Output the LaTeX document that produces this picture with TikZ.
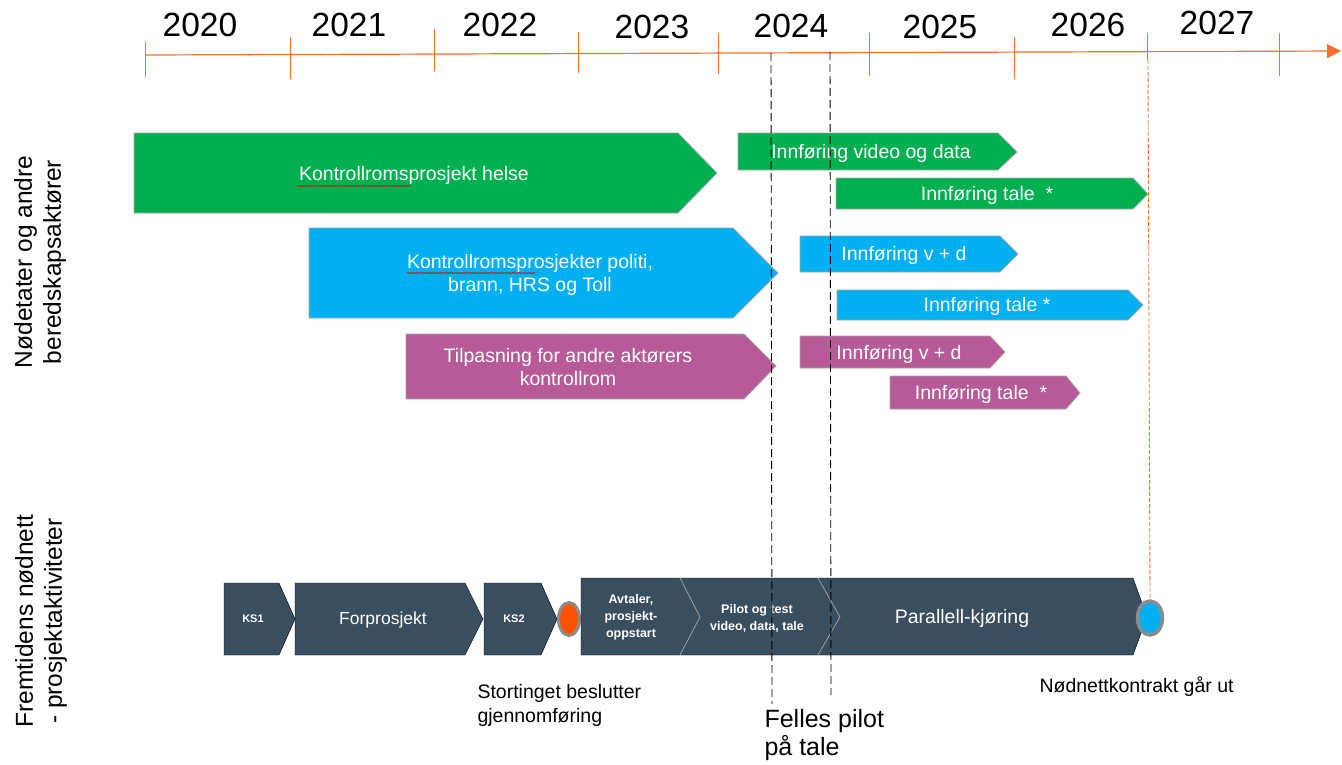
\documentclass[tikz,border=0pt]{standalone}
\usepackage{fontspec}
\setmainfont{Liberation Sans}
\usetikzlibrary{shapes.geometric,decorations.pathmorphing,arrows.meta}

\definecolor{tlorange}{HTML}{F4702E}
\definecolor{helsegreen}{HTML}{00B050}
\definecolor{etatblue}{HTML}{00B0F0}
\definecolor{aktpurple}{HTML}{B65B98}
\definecolor{prosjslate}{HTML}{394E5E}
\definecolor{rimgray}{HTML}{A6A6A6}
\definecolor{dotorange}{HTML}{FF5200}

\tikzset{
  greenbar/.style={fill=helsegreen, draw=rimgray, line width=0.8},
  bluebar/.style={fill=etatblue, draw=rimgray, line width=0.8},
  purplebar/.style={fill=aktpurple, draw=rimgray, line width=0.8},
  slatebar/.style={fill=prosjslate},
  sepline/.style={draw=gray!70, line width=0.7},
  bartext/.style={text=white, align=center, font=\fontsize{19.5}{23}\selectfont},
  smalltext/.style={text=white, align=center, font=\bfseries\fontsize{12.5}{17}\selectfont},
  yeartext/.style={font=\fontsize{33.5}{34}\selectfont},
  sidetext/.style={rotate=90, align=center, font=\fontsize{24.5}{29}\selectfont},
  notetext/.style={anchor=west, align=left, font=\fontsize{19.5}{24}\selectfont},
  guide/.style={dash pattern=on 8pt off 4pt, line width=0.9},
  yeartick/.style={tlorange, line width=1},
  squiggle/.style={red!85!black, line width=0.5, decorate,
    decoration={snake, amplitude=0.8pt, segment length=3pt}}
}

\begin{document}
\begin{tikzpicture}[x=1pt, y=-1pt]
	\useasboundingbox (0,0) rectangle (1342,764);
	
	% time line
	\draw[tlorange, line width=1.2, -{Triangle[length=14pt, width=14pt]}] (145,55) -- (1341,51);
	\draw[yeartick] (145,42) -- (145,77);
	\draw[yeartick] (290,37) -- (290,79);
	\draw[yeartick] (434,29) -- (434,71);
	\draw[yeartick] (578,32) -- (578,73);
	\draw[yeartick] (718,33) -- (718,74);
	\draw[yeartick] (869,33) -- (869,76);
	\draw[yeartick] (1014,37) -- (1014,79);
	\draw[yeartick] (1147,33) -- (1147,60);
	\draw[yeartick] (1279,33) -- (1279,76);
	
	\node[yeartext] (y2020) at (200,25) {2020};
	\node[yeartext] (y2021) at (349,25) {2021};
	\node[yeartext] (y2022) at (500,25) {2022};
	\node[yeartext] (y2023) at (652,27) {2023};
	\node[yeartext] (y2024) at (791,26) {2024};
	\node[yeartext] (y2025) at (940,27) {2025};
	\node[yeartext] (y2026) at (1088,25) {2026};
	\node[yeartext] (y2027) at (1217,23) {2027};
	
	% side labels
	\node[sidetext] (etater) at (40,262) {Nødetater og andre\\beredskapsaktører};
	\node[sidetext] (fremtid) at (41,621) {Fremtidens nødnett\\- prosjektaktiviteter};
	
	% green rows
	\filldraw[greenbar] (134,133) -- (678,133) -- (717,173) -- (678,213) -- (134,213) -- cycle;
	\node[bartext] (helse) at (414,175) {Kontrollromsprosjekt helse};
	\filldraw[greenbar] (738,133) -- (998,133) -- (1017,152) -- (998,170) -- (738,170) -- cycle;
	\node[bartext] (gvd) at (871,153) {Innføring video og data};
	\filldraw[greenbar] (836,178) -- (1133,178) -- (1148,194) -- (1133,209) -- (836,209) -- cycle;
	\node[bartext] (gtale) at (987,195) {Innføring tale~~*};
	
	% blue rows
	\filldraw[bluebar] (309,228) -- (733,228) -- (778,273) -- (733,318) -- (309,318) -- cycle;
	\node[bartext] (politi) at (530,275) {Kontrollromsprosjekter politi,\\brann, HRS og Toll};
	\filldraw[bluebar] (800,236) -- (1000,236) -- (1018,254) -- (1000,272) -- (800,272) -- cycle;
	\node[bartext] (bvd) at (904,255) {Innføring v + d};
	\filldraw[bluebar] (837,290) -- (1128,290) -- (1143,305) -- (1128,320) -- (837,320) -- cycle;
	\node[bartext] (btale) at (987,306) {Innføring tale *};
	
	% purple rows
	\filldraw[purplebar] (406,334) -- (744,334) -- (776,366) -- (744,399) -- (406,399) -- cycle;
	\node[bartext] (andre) at (568,367) {Tilpasning for andre aktørers\\kontrollrom};
	\filldraw[purplebar] (800,336) -- (990,336) -- (1005,352) -- (990,368) -- (800,368) -- cycle;
	\node[bartext] (pvd) at (899,354) {Innføring v + d};
	\filldraw[purplebar] (890,376) -- (1066,376) -- (1080,393) -- (1066,409) -- (890,409) -- cycle;
	\node[bartext] (ptale) at (981,394) {Innføring tale~~*};
	
	% spell check marks
	\draw[squiggle] (297,186) -- (411,186);
	\draw[squiggle] (407,273) -- (535,273);
	
	% project row
	\filldraw[slatebar] (224,583) -- (279,583) -- (295,619) -- (279,655) -- (224,655) -- cycle;
	\node[smalltext, font=\bfseries\fontsize{11}{12}\selectfont] (ks1) at (253,619) {KS1};
	\filldraw[slatebar] (295,583) -- (465,583) -- (483,619) -- (465,655) -- (295,655) -- cycle;
	\node[bartext, font=\fontsize{17.5}{20}\selectfont] (forprosjekt) at (383,620) {Forprosjekt};
	\filldraw[slatebar] (484,583) -- (541,583) -- (557,619) -- (541,655) -- (484,655) -- cycle;
	\node[smalltext, font=\bfseries\fontsize{11}{12}\selectfont] (ks2) at (514,619) {KS2};
	\node[ellipse, fill=dotorange, draw=gray!90, line width=3, minimum width=21, minimum height=33, inner sep=0] (vedtak) at (569,619) {};
	
	\filldraw[slatebar] (581,578) -- (1133,578) -- (1147,617) -- (1133,655) -- (581,655) -- cycle;
	\draw[sepline] (680,578) -- (700,617) -- (680,655);
	\draw[sepline] (818,578) -- (840,617) -- (818,655);
	\node[smalltext] (avtaler) at (631,617) {Avtaler,\\prosjekt-\\oppstart};
	\node[smalltext] (pilot) at (757,618) {Pilot og test\\video, data, tale};
	\node[bartext] (parallell) at (962,618) {Parallell-kjøring};
	\node[ellipse, fill=etatblue, draw=gray!90, line width=3.5, minimum width=25, minimum height=34, inner sep=0] (utlop) at (1150,618) {};
	
	% guide lines
	\coordinate (pilotA) at (771,53);
	\coordinate (pilotB) at (830,52);
	\coordinate (kontraktA) at (1148,60);
	\draw[guide] (pilotA) -- (772,704);
	\draw[guide] (pilotB) -- (831,695);
	\draw[tlorange, dash pattern=on 4pt off 2pt, line width=0.9] (kontraktA) -- (utlop.north);
	
	% notes
	\node[notetext] (storting) at (474,705) {Stortinget beslutter\\gjennomføring};
	\node[notetext, font=\fontsize{25}{28}\selectfont] (felles) at (761,735) {Felles pilot\\på tale};
	\node[notetext] (kontrakt) at (1036,687) {Nødnettkontrakt går ut};
\end{tikzpicture}
\end{document}
